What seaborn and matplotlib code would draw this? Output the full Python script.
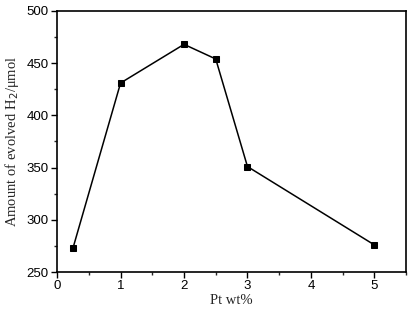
import matplotlib
matplotlib.use('Agg')
import matplotlib.pyplot as plt
from matplotlib.ticker import MultipleLocator
import seaborn as sns
import pandas as pd

# Pt loading vs amount of H2
pt_wt = [0.25, 1, 2, 2.5, 3, 5]
h2_umol = [273, 431, 468, 454, 351, 276]

df = pd.DataFrame({'Pt': pt_wt, 'H2': h2_umol})

sns.set_style('ticks')
plt.rcParams['font.family'] = ['Liberation Sans', 'DejaVu Sans']

fig = plt.figure(figsize=(4.11, 3.12), dpi=100)
ax = fig.add_axes([0.139, 0.128, 0.849, 0.837])

sns.lineplot(data=df, x='Pt', y='H2', ax=ax, color='black', linewidth=1.1,
             marker='s', markersize=5, markeredgecolor='black', markerfacecolor='black')

ax.set_xlim(0, 5.5)
ax.set_ylim(250, 500)
ax.xaxis.set_major_locator(MultipleLocator(1))
ax.xaxis.set_minor_locator(MultipleLocator(0.5))
ax.yaxis.set_major_locator(MultipleLocator(50))
ax.yaxis.set_minor_locator(MultipleLocator(25))

for s in ax.spines.values():
    s.set_linewidth(1.2)
    s.set_color('black')
ax.tick_params(which='major', direction='out', length=4, width=1, labelsize=9.5, colors='black', pad=2)
ax.tick_params(which='minor', direction='out', length=2.5, width=1)

serif = ['Liberation Serif', 'DejaVu Serif']
ax.set_xlabel('Pt wt%', family=serif, fontsize=10.5, labelpad=1)
ax.set_ylabel('Amount of evolved H$_2$/μmol', family=serif, fontsize=10.5, labelpad=4)
plt.rcParams['mathtext.fontset'] = 'stix'

fig.savefig('out.png', dpi=100)
